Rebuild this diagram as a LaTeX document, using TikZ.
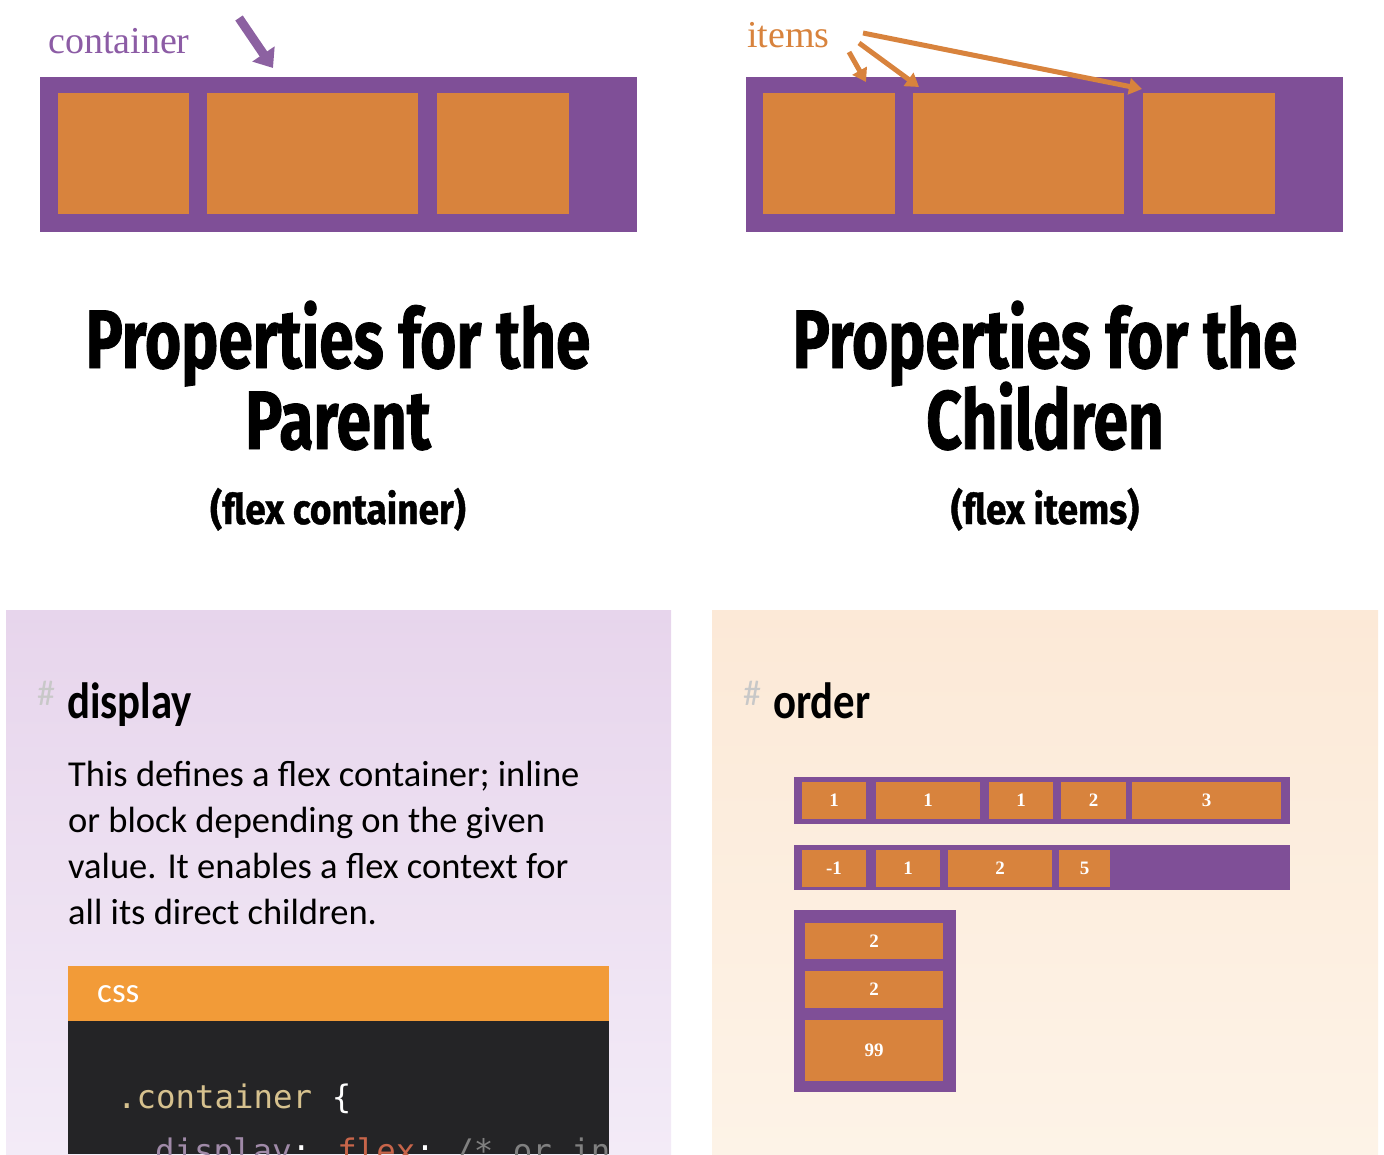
\documentclass[tikz,border=0pt]{standalone}
\usepackage{fontspec}
\setmainfont{Carlito}
\newfontfamily\titlefont[FakeStretch=0.75,FakeBold=1]{Fira Sans}
\newfontfamily\subfont[FakeStretch=0.88,FakeBold=1]{Fira Sans}
\newfontfamily\headfont[FakeStretch=0.84]{Carlito}
\newfontfamily\notefont{Liberation Serif}
\newfontfamily\codefont{DejaVu Sans Mono}
\usetikzlibrary{arrows.meta}

\definecolor{flexpurple}{RGB}{127,79,151}
\definecolor{flexorange}{RGB}{216,131,61}
\definecolor{notepurple}{RGB}{140,92,165}
\definecolor{lavtop}{RGB}{231,213,236}
\definecolor{lavbot}{RGB}{243,235,247}
\definecolor{peachtop}{RGB}{252,233,215}
\definecolor{peachbot}{RGB}{253,243,231}
\definecolor{csshead}{RGB}{242,155,56}
\definecolor{codebg}{RGB}{36,36,38}
\definecolor{codetan}{RGB}{214,193,142}
\definecolor{codeprop}{RGB}{160,138,168}
\definecolor{codeval}{RGB}{200,101,74}
\definecolor{codecmt}{RGB}{128,128,128}
\definecolor{hashgray}{RGB}{200,200,200}

% cell from corner (#2,#3) to corner (#4,#5)
\newcommand{\cell}[6][item]{%
  \node[#1, minimum width={#4pt-#2pt}, minimum height={#5pt-#3pt}]
    (#6) at ({(#2+#4)/2},{(#3+#5)/2}) {};}
\newcommand{\ordercell}[6]{%
  \node[item, minimum width={#4pt-#2pt}, minimum height={#5pt-#3pt}, font=\notefont\bfseries\fontsize{19}{19}\selectfont, text=white]
    (#1) at ({(#2+#4)/2},{(#3+#5)/2}) {#6};}

\begin{document}
\begin{tikzpicture}[x=1pt,y=-1pt,
    box/.style={fill=flexpurple, inner sep=0pt, outer sep=0pt},
    item/.style={fill=flexorange, inner sep=0pt, outer sep=0pt},
    panel/.style={inner sep=0pt, outer sep=0pt, anchor=north west},
    title/.style={font=\titlefont\bfseries\fontsize{83}{83}\selectfont, anchor=base, inner sep=0pt},
    subtitle/.style={font=\subfont\bfseries\fontsize{42}{42}\selectfont, anchor=base, inner sep=0pt},
    heading/.style={font=\headfont\bfseries\fontsize{51}{51}\selectfont, anchor=base west, inner sep=0pt},
    hash/.style={font=\fontsize{36}{36}\selectfont, text=hashgray, anchor=base west, inner sep=0pt},
    desc/.style={font=\fontsize{36.5}{36.5}\selectfont, anchor=base west, inner sep=0pt},
    note/.style={font=\notefont\fontsize{38}{38}\selectfont, anchor=base west, inner sep=0pt},
    code/.style={font=\codefont\fontsize{32.4}{32.4}\selectfont, anchor=base west, inner sep=0pt},
    pointer/.style={-{Triangle[length=17pt,width=26pt]}, line width=9pt, flexpurple!90!white},
    itemptr/.style={-{Triangle[length=13pt,width=16pt]}, line width=5pt, flexorange}]
\useasboundingbox (0,0) rectangle (1384,1154);

% parent
\cell[box]{40}{77}{637}{232}{parentbox}
\cell{58}{93}{189}{214}{pa}
\cell{207}{93}{418}{214}{pb}
\cell{437}{93}{569}{214}{pc}
\node[note, text=notepurple] (containerlbl) at (48,53) {container};
\coordinate (ptail) at (239,18);
\coordinate (phead) at (273,68);
\draw[pointer] (ptail) -- (phead);

% children
\cell[box]{746}{77}{1343}{232}{childbox}
\cell{763}{93}{895}{214}{ca}
\cell{913}{93}{1124}{214}{cb}
\cell{1143}{93}{1275}{214}{cc}
\node[note, text=flexorange] (itemslbl) at (747,47) {items};
\coordinate (t1) at (849,52);
\coordinate (t2) at (859,43);
\coordinate (t3) at (863,33);
\coordinate (h1) at (866,82);
\coordinate (h2) at (919,87);
\coordinate (h3) at (1142,89);
\draw[itemptr] (t1) -- (h1);
\draw[itemptr] (t2) -- (h2);
\draw[itemptr] (t3) -- (h3);

% titles
\node[title] (pt1) at (338,368) {Properties for the};
\node[title] (pt2) at (338,449) {Parent};
\node[subtitle] (pt3) at (338,524) {(flex container)};
\node[title] (ct1) at (1045,368) {Properties for the};
\node[title] (ct2) at (1045,449) {Children};
\node[subtitle] (ct3) at (1045,524) {(flex items)};

% panels
\node[panel, top color=lavtop, bottom color=lavbot, minimum width=665pt, minimum height=544pt] (lpanel) at (6,610) {};
\node[panel, top color=peachtop, bottom color=peachbot, minimum width=666pt, minimum height=544pt] (rpanel) at (712,610) {};

% display
\node[hash] (h) at (37,705) {\#};
\node[heading] (display) at (67,718) {display};
\node[desc] (d1) at (68,786) {This defines a flex container; inline};
\node[desc] (d2) at (68,832) {or block depending on the given};
\node[desc] (d3) at (68,878) {value. It enables a flex context for};
\node[desc] (d4) at (68,924) {all its direct children.};
\node[panel, fill=csshead, minimum width=541pt, minimum height=55pt] (csshd) at (68,966) {};
\node[anchor=base west, inner sep=0pt, text=white, font=\fontsize{35}{35}\selectfont] (css) at (97,1002) {css};
\node[panel, fill=codebg, minimum width=541pt, minimum height=133pt] (codebox) at (68,1021) {};
\begin{scope}
  \clip (68,1021) rectangle (609,1154);
  \node[code] (l1) at (117,1108) {\textcolor{codetan}{.container} \textcolor{white}{\{}};
  \node[code] (l2) at (155,1162) {\textcolor{codeprop}{display}\textcolor{white}{:} \textcolor{codeval}{flex}\textcolor{white}{;} \textcolor{codecmt}{/* or inline-flex */}};
\end{scope}

% order
\node[hash] (h2) at (743,705) {\#};
\node[heading] (order) at (773,718) {order};
\cell[box]{794}{777}{1290}{824}{row1}
\ordercell{r1a}{802}{782}{866}{819}{1}
\ordercell{r1b}{876}{782}{980}{819}{1}
\ordercell{r1c}{989}{782}{1053}{819}{1}
\ordercell{r1d}{1061}{782}{1126}{819}{2}
\ordercell{r1e}{1132}{782}{1281}{819}{3}
\cell[box]{794}{845}{1290}{890}{row2}
\ordercell{r2a}{802}{850}{866}{887}{-1}
\ordercell{r2b}{876}{850}{940}{887}{1}
\ordercell{r2c}{948}{850}{1052}{887}{2}
\ordercell{r2d}{1059}{850}{1110}{887}{5}
\cell[box]{794}{910}{956}{1092}{col}
\ordercell{c1}{805}{923}{943}{959}{2}
\ordercell{c2}{805}{971}{943}{1008}{2}
\ordercell{c3}{805}{1020}{943}{1081}{99}
\end{tikzpicture}
\end{document}
